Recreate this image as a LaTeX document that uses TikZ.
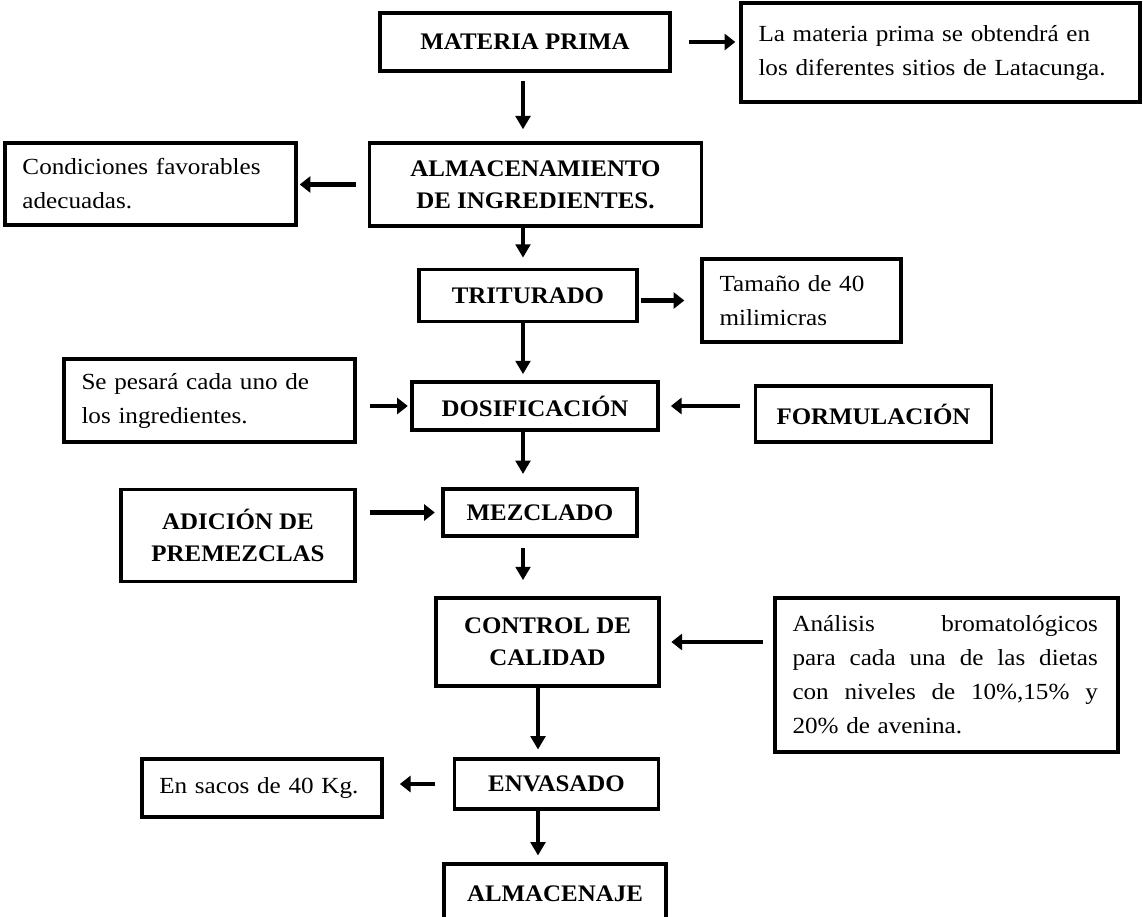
\documentclass[tikz,border=0pt]{standalone}
\usepackage{fontspec}
\setmainfont{Liberation Serif}
\newfontfamily\notefont{Liberation Serif}[FakeStretch=1.09]
\newfontfamily\stepfont{Liberation Serif}[FakeStretch=1.05]
\usetikzlibrary{positioning,arrows.meta}

\begin{document}
\begin{tikzpicture}[
  x=0.75pt,y=-0.75pt,
  stepbox/.style={draw,line width=2.8pt,inner sep=0pt,align=center,
    font=\stepfont\bfseries\fontsize{17.8}{24}\selectfont},
  notebox/.style={draw,line width=2.8pt,inner xsep=13pt,inner ysep=0pt,align=left,
    font=\notefont\fontsize{17.3}{25.5}\selectfont},
  hflow/.style={line width=3.4pt,-{Triangle[length=8pt,width=12pt]}},
  vflow/.style={line width=2.4pt,-{Triangle[length=10pt,width=11pt]}}
]
  \useasboundingbox (0,0) rectangle (1143,917);
  \coordinate (spine) at (523,0);
  \coordinate (spine2) at (538,0);

  % Main column
  \node[stepbox,minimum width=217pt,minimum height=43pt] (mp) at (525,42) {MATERIA PRIMA};
  \node[stepbox,minimum width=249pt,minimum height=62pt] (alm) at (535.5,184.5) {ALMACENAMIENTO\\DE INGREDIENTES.};
  \node[stepbox,minimum width=163pt,minimum height=39pt] (trit) at (528,295.5) {TRITURADO};
  \node[stepbox,minimum width=185pt,minimum height=36pt] (dos) at (535,406) {DOSIFICACIÓN};
  \node[stepbox,minimum width=145pt,minimum height=35pt] (mez) at (540,512.5) {MEZCLADO};
  \node[stepbox,minimum width=167pt,minimum height=66pt] (ctrl) at (547.5,642) {CONTROL DE\\CALIDAD};
  \node[stepbox,minimum width=153pt,minimum height=37pt] (env) at (556.5,784) {ENVASADO};
  \node[stepbox,minimum width=167pt,minimum height=45pt] (almj) at (555,894) {ALMACENAJE};

  % Inputs
  \node[stepbox,minimum width=177pt,minimum height=42pt] (form) at (873.5,414) {FORMULACIÓN};
  \node[stepbox,minimum width=175pt,minimum height=69pt] (adi) at (238,535.5) {ADICIÓN DE\\PREMEZCLAS};

  % Side notes
  \node[notebox,text width=273pt,minimum height=74pt] (note) at (940.5,52.5)
    {La materia prima se obtendrá en\\los diferentes sitios de Latacunga.};
  \node[notebox,text width=192pt,minimum height=61.5pt] (cond) at (150.5,184)
    {Condiciones favorables\\adecuadas.};
  \node[notebox,text width=123pt,minimum height=62pt] (tam) at (801.5,300.5)
    {Tamaño de 40\\milimicras};
  \node[notebox,text width=192pt,minimum height=62pt] (sep) at (209.5,400.5)
    {Se pesará cada uno de\\los ingredientes.};
  \node[notebox,text width=231pt,minimum height=115.5pt] (an) at (946.5,675)
    {\makebox[229pt]{Análisis\hfill bromatológicos}\\
     \makebox[229pt]{para\hfill cada\hfill una\hfill de\hfill las\hfill dietas}\\
     \makebox[229pt]{con\hfill niveles\hfill de\hfill 10\%,15\%\hfill y}\\
     20\% de avenina.};
  \node[notebox,text width=154pt,minimum height=43.5pt] (ens) at (262,788)
    {En sacos de 40 Kg.};

  % Arrows down
  \draw[vflow,shorten <=6pt,shorten >=9pt] (mp.south -| spine) -- (alm.north -| spine);
  \draw[vflow,shorten >=7.5pt] (alm.south -| spine) -- (trit.north -| spine);
  \draw[vflow,shorten >=4.5pt] (trit.south -| spine) -- (dos.north -| spine);
  \draw[vflow,shorten >=10pt] (dos.south -| spine) -- (mez.north -| spine);
  \draw[vflow,shorten <=8pt,shorten >=12pt] (mez.south -| spine) -- (ctrl.north -| spine);
  \draw[vflow,shorten >=6pt] (ctrl.south -| spine2) -- (env.north -| spine2);
  \draw[vflow,shorten >=5pt] (env.south -| spine2) -- (almj.north -| spine2);

  % Arrows across
  \draw[hflow,shorten <=13pt,shorten >=3pt] (mp.east) -- (note.west |- mp.east);
  \draw[hflow,shorten <=9pt,shorten >=1.5pt] (alm.west) -- (cond.east |- alm.west);
  \draw[hflow,shorten <=1.5pt,shorten >=12pt] (trit.east |- tam.west) -- (tam.west);
  \draw[hflow,shorten <=10pt,shorten >=1.5pt] (sep.east |- dos.west) -- (dos.west);
  \draw[hflow,shorten <=10pt,shorten >=8pt] (form.west |- dos.east) -- (dos.east);
  \draw[hflow,shorten <=10pt,shorten >=5pt] (adi.east |- mez.west) -- (mez.west);
  \draw[hflow,shorten <=7.5pt,shorten >=8pt] (an.west |- ctrl.east) -- (ctrl.east);
  \draw[hflow,shorten <=13pt,shorten >=12pt] (env.west) -- (ens.east |- env.west);
\end{tikzpicture}
\end{document}
